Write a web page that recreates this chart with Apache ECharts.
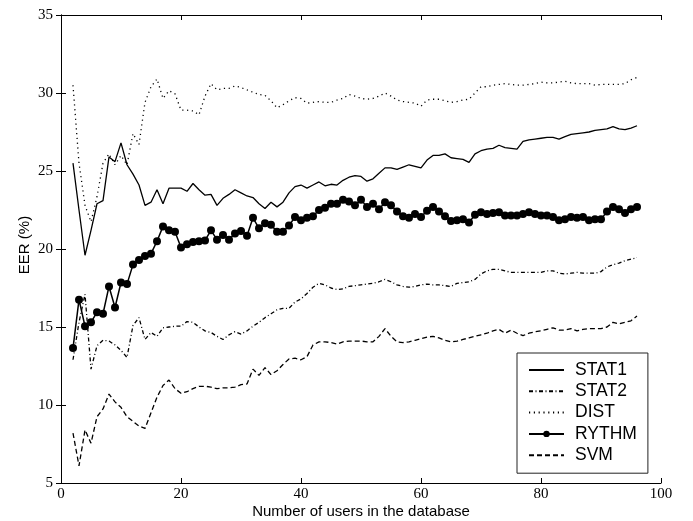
<!DOCTYPE html>
<html>
<head>
<meta charset="utf-8">
<script src="https://cdn.jsdelivr.net/npm/echarts@6/dist/echarts.min.js"></script>
<style>
html,body{margin:0;padding:0;background:#fff;}
#chart{width:693px;height:521px;}
</style>
</head>
<body>
<div id="chart"></div>
<script>
// Number of users in the database (x values)
const users = [2,3,4,5,6,7,8,9,10,11,12,13,14,15,16,17,18,19,20,21,22,23,24,25,26,27,28,29,30,31,32,33,34,35,36,37,38,39,40,41,42,43,44,45,46,47,48,49,50,51,52,53,54,55,56,57,58,59,60,61,62,63,64,65,66,67,68,69,70,71,72,73,74,75,76,77,78,79,80,81,82,83,84,85,86,87,88,89,90,91,92,93,94,95,96];

const stat1 = [25.5,22.5,19.6,21.2,22.9,23.1,25.9,25.6,26.8,25.4,24.8,24.1,22.8,23.0,23.8,22.9,23.9,23.9,23.9,23.7,24.2,23.8,23.45,23.5,22.8,23.25,23.5,23.8,23.6,23.4,23.3,22.9,22.6,23.0,22.7,23.0,23.6,24.0,24.1,23.9,24.1,24.3,24.05,24.15,24.1,24.4,24.6,24.7,24.65,24.35,24.5,24.85,25.2,25.2,25.1,25.25,25.4,25.3,25.2,25.7,26.0,26.0,26.1,25.85,25.8,25.75,25.55,26.1,26.3,26.4,26.45,26.65,26.5,26.45,26.4,26.9,27.0,27.05,27.1,27.15,27.15,27.05,27.2,27.35,27.4,27.45,27.5,27.6,27.65,27.7,27.85,27.7,27.65,27.75,27.9];

const stat2 = [12.9,15.3,17.1,12.3,13.8,14.15,14.1,13.85,13.5,13.05,15.1,15.6,14.2,14.65,14.4,14.95,15.0,15.05,15.05,15.35,15.3,15.0,14.75,14.65,14.4,14.2,14.5,14.7,14.55,14.75,15.05,15.3,15.6,15.85,16.1,16.2,16.2,16.6,16.8,17.15,17.55,17.8,17.7,17.5,17.4,17.45,17.6,17.65,17.7,17.75,17.8,17.9,18.05,17.9,17.7,17.6,17.55,17.6,17.7,17.75,17.7,17.7,17.65,17.6,17.8,17.85,17.9,18.05,18.4,18.6,18.7,18.7,18.6,18.5,18.5,18.5,18.5,18.5,18.5,18.6,18.6,18.45,18.4,18.45,18.5,18.45,18.45,18.45,18.55,18.85,19.0,19.1,19.25,19.35,19.45];

const dist = [30.5,25.5,22.8,21.75,23.35,25.5,26.1,25.4,26.0,25.4,27.4,26.7,29.4,30.4,30.9,29.65,30.15,29.95,28.9,28.9,28.85,28.6,29.8,30.6,30.2,30.3,30.3,30.45,30.35,30.2,30.05,29.9,29.85,29.5,29.05,29.25,29.5,29.7,29.65,29.35,29.4,29.45,29.4,29.4,29.55,29.65,29.9,29.8,29.65,29.6,29.65,29.8,30.0,29.8,29.55,29.45,29.4,29.35,29.15,29.55,29.6,29.6,29.5,29.4,29.45,29.55,29.6,30.0,30.4,30.4,30.5,30.55,30.6,30.55,30.5,30.5,30.55,30.6,30.7,30.65,30.65,30.7,30.75,30.65,30.6,30.6,30.6,30.5,30.55,30.55,30.55,30.55,30.6,30.85,31.0];

const rythm = [13.65,16.75,15.05,15.3,15.95,15.85,17.6,16.25,17.85,17.75,19.0,19.3,19.55,19.7,20.5,21.45,21.2,21.1,20.1,20.3,20.45,20.5,20.55,21.2,20.6,20.9,20.6,21.0,21.15,20.85,22.0,21.33,21.65,21.55,21.1,21.1,21.5,22.05,21.85,22.0,22.1,22.5,22.65,22.9,22.9,23.15,23.05,22.8,23.15,22.7,22.9,22.55,23.0,22.8,22.4,22.1,22.0,22.25,22.05,22.45,22.7,22.4,22.1,21.8,21.85,21.9,21.7,22.2,22.35,22.25,22.3,22.35,22.15,22.15,22.15,22.25,22.35,22.25,22.15,22.15,22.05,21.85,21.9,22.05,22.0,22.05,21.85,21.9,21.9,22.4,22.7,22.55,22.3,22.55,22.7];

const svm = [8.2,6.1,8.4,7.55,9.25,9.75,10.7,10.2,9.85,9.25,8.95,8.65,8.5,9.5,10.5,11.25,11.6,11.05,10.75,10.85,11.05,11.2,11.2,11.15,11.05,11.1,11.1,11.15,11.3,11.35,12.3,11.9,12.4,11.95,12.2,12.6,12.95,13.0,12.9,13.1,13.85,14.05,14.05,14.0,13.9,14.05,14.1,14.1,14.1,14.05,14.05,14.4,14.9,14.4,14.05,14.0,14.05,14.15,14.25,14.35,14.4,14.3,14.15,14.05,14.1,14.2,14.3,14.4,14.5,14.6,14.75,14.85,14.6,14.8,14.6,14.45,14.6,14.7,14.75,14.85,14.95,14.8,14.8,14.9,14.75,14.85,14.9,14.9,14.9,15.0,15.3,15.2,15.3,15.4,15.7];

const seriesNames = ['STAT1','STAT2','DIST','RYTHM','SVM'];
const xTicks = [0,20,40,60,80,100];
const yTicks = [5,10,15,20,25,30,35];

function pairs(vals){ return users.map((u,i)=>[u, vals[i]]); }

const chart = echarts.init(document.getElementById('chart'), null, {renderer:'canvas'});

const axisCommon = {
  axisLine:{show:true, lineStyle:{color:'#000', width:1}},
  axisTick:{show:true, inside:true, length:5, lineStyle:{color:'#000', width:1}},
  splitLine:{show:false}
};
const tickFont = {fontFamily:'Liberation Serif', fontSize:15, color:'#000'};
const titleFont = {fontFamily:'Liberation Sans', fontSize:15, color:'#000'};
const hiddenSymbol = {color:'rgba(0,0,0,0)', borderColor:'rgba(0,0,0,0)', borderWidth:0, opacity:0};

const option = {
  animation:false,
  backgroundColor:'#fff',
  grid:{left:61, right:32, top:15, bottom:38, containLabel:false, outerBoundsMode:'none'},
  xAxis:[
    Object.assign({type:'value', position:'bottom', min:xTicks[0], max:xTicks[xTicks.length-1], interval:20,
      axisLabel:Object.assign({margin:4}, tickFont),
      name:'Number of users in the database', nameLocation:'middle', nameGap:21, nameMoveOverlap:false,
      nameTextStyle:titleFont}, axisCommon),
    Object.assign({type:'value', position:'top', min:xTicks[0], max:xTicks[xTicks.length-1], interval:20,
      axisLabel:{show:false}}, axisCommon)
  ],
  yAxis:[
    Object.assign({type:'value', position:'left', min:yTicks[0], max:yTicks[yTicks.length-1], interval:5,
      axisLabel:Object.assign({margin:8}, tickFont),
      name:'EER (%)', nameLocation:'middle', nameGap:29, nameRotate:90, nameMoveOverlap:false,
      nameTextStyle:Object.assign({padding:[0,0,0,8]}, titleFont)}, axisCommon),
    Object.assign({type:'value', position:'right', min:yTicks[0], max:yTicks[yTicks.length-1], interval:5,
      axisLabel:{show:false}}, axisCommon)
  ],
  legend:{
    orient:'vertical', left:517, top:353,
    padding:[8,11,9,11], itemWidth:35, itemHeight:8, itemGap:3.3,
    backgroundColor:'#fff', borderColor:'#222', borderWidth:1, borderRadius:0,
    textStyle:{fontFamily:'Liberation Sans', fontSize:17.5, color:'#000', lineHeight:18, padding:[0,0,0,6]},
    data:[
      {name:seriesNames[0], itemStyle:hiddenSymbol},
      {name:seriesNames[1], itemStyle:hiddenSymbol},
      {name:seriesNames[2], itemStyle:hiddenSymbol},
      {name:seriesNames[3]},
      {name:seriesNames[4], itemStyle:hiddenSymbol}
    ]
  },
  series:[
    {name:seriesNames[0], type:'line', data:pairs(stat1), symbol:'none', color:'#000',
      lineStyle:{color:'#000', width:1.3, type:'solid'}},
    {name:seriesNames[1], type:'line', data:pairs(stat2), symbol:'none', color:'#000',
      lineStyle:{color:'#000', width:1.3, type:[4,2.5,1,2.5]}},
    {name:seriesNames[2], type:'line', data:pairs(dist), symbol:'none', color:'#000',
      lineStyle:{color:'#000', width:1.3, type:[1.2,3.6]}},
    {name:seriesNames[3], type:'line', data:pairs(rythm), symbol:'circle', symbolSize:8, showSymbol:true, color:'#000',
      itemStyle:{color:'#000', borderWidth:0}, lineStyle:{color:'#000', width:1.5, type:'solid'}},
    {name:seriesNames[4], type:'line', data:pairs(svm), symbol:'none', color:'#000',
      lineStyle:{color:'#000', width:1.3, type:[5,3]}}
  ]
};
chart.setOption(option);
</script>
</body>
</html>
